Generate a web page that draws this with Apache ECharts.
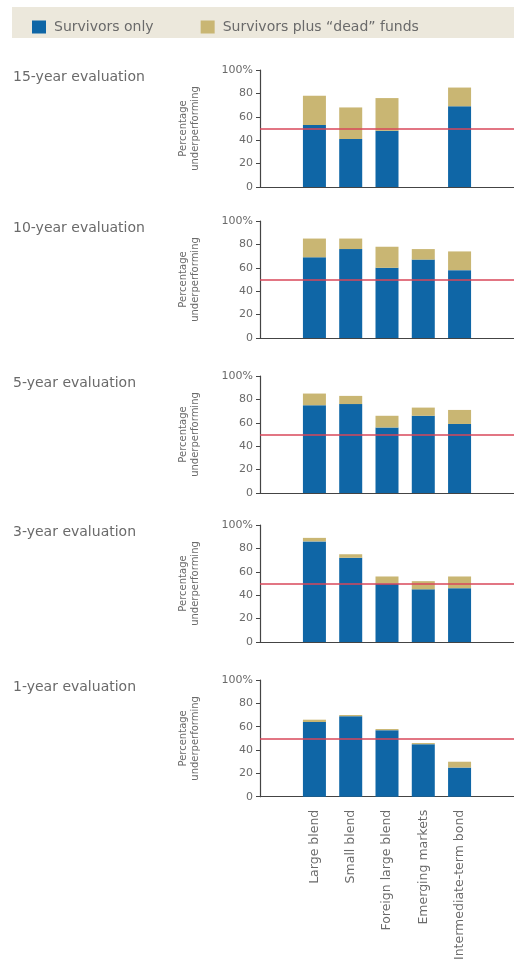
<!DOCTYPE html>
<html><head><meta charset="utf-8">
<script src="https://cdn.jsdelivr.net/npm/echarts@6/dist/echarts.min.js"></script>
<style>html,body{margin:0;padding:0;background:#fff}#c{width:514px;height:963px}</style>
</head><body><div id="c"></div>
<script>
var categories = ['Large blend','Small blend','Foreign large blend','Emerging markets','Intermediate-term bond'];
var panelTitles = ['15-year evaluation','10-year evaluation','5-year evaluation','3-year evaluation','1-year evaluation'];
var survivors15 = [53, 41, 48, null, 69];
var total15     = [78, 68, 76, null, 85];
var survivors10 = [69, 76, 60, 67, 58];
var total10     = [85, 85, 78, 76, 74];
var survivors5  = [75, 76, 56, 66, 59];
var total5      = [85, 83, 66, 73, 71];
var survivors3  = [86, 72, 50, 45, 46];
var total3      = [89, 75, 56, 52, 56];
var survivors1  = [64, 69, 57, 45, 25];
var total1      = [66, 70, 58, 46, 30];
var yTicks = [0, 20, 40, 60, 80, 100];
var benchmark = 50;

var survivorsAll = [survivors15, survivors10, survivors5, survivors3, survivors1];
var totalsAll = [total15, total10, total5, total3, total1];

var BLUE = '#0f66a6', BEIGE = '#c9b673', RED = '#d9475a', AX = '#444', TXT = '#6a6a6a';
var FONT = 'DejaVu Sans';
var tops = [70, 221, 376, 525, 680];
var H = 117;

var cats = [''].concat(categories).concat(['']);
function pad(a){ return [null].concat(a).concat([null]); }

var grids = [], xAxes = [], yAxes = [], series = [], graphics = [];
graphics.push({type:'rect', shape:{x:12, y:7, width:502, height:31}, style:{fill:'#ece8dc'}, silent:true, z:-1});
for (var i = 0; i < 5; i++) {
  grids.push({left:260, right:0, top:tops[i], height:H, containLabel:false});
  var last = (i === 4);
  xAxes.push({type:'category', gridIndex:i, data:cats, boundaryGap:true,
    axisLine:{show:true, lineStyle:{color:AX, width:1.2}}, axisTick:{show:false},
    axisLabel:{show:last, rotate:90, margin:13, color:TXT, fontSize:12.5, fontFamily:FONT, interval:0}});
  yAxes.push({type:'value', gridIndex:i, min:yTicks[0], max:yTicks[yTicks.length-1], interval:yTicks[1]-yTicks[0],
    axisLine:{show:true, lineStyle:{color:AX, width:1.2}},
    axisTick:{show:true, length:4, lineStyle:{color:AX}},
    splitLine:{show:false},
    axisLabel:{color:TXT, fontSize:11, fontFamily:FONT, margin:7, formatter:function(v){return v===100?'100%':String(v);}},
    name:'Percentage\nunderperforming', nameLocation:'middle', nameRotate:90, nameGap:59,
    nameTextStyle:{color:TXT, fontSize:10, fontFamily:FONT, lineHeight:12}});
  var s = survivorsAll[i], t = totalsAll[i];
  var dead = t.map(function(v, k){ return (v == null || s[k] == null) ? null : v - s[k]; });
  series.push({name:'Survivors only', type:'bar', xAxisIndex:i, yAxisIndex:i, stack:'s'+i,
    barWidth:23, data:pad(s), itemStyle:{color:BLUE},
    markLine:{silent:true, symbol:['none','none'], label:{show:false},
      lineStyle:{color:RED, width:1.5, type:'solid'}, data:[{yAxis:benchmark}]}});
  series.push({name:'Survivors plus \u201cdead\u201d funds', type:'bar', xAxisIndex:i, yAxisIndex:i, stack:'s'+i,
    barWidth:23, data:pad(dead), itemStyle:{color:BEIGE}});
  graphics.push({type:'text', left:13, top:tops[i], style:{text:panelTitles[i], fill:TXT, font:'14px "'+FONT+'"'}});
}

var chart = echarts.init(document.getElementById('c'), null, {renderer:'canvas'});
chart.setOption({
  animation:false,
  backgroundColor:'#fff',
  legend:{left:27, top:15, itemWidth:14, itemHeight:13, itemGap:47,
    icon:'rect', textStyle:{color:TXT, fontSize:14, fontFamily:FONT, padding:[0,0,0,3]},
    data:['Survivors only','Survivors plus \u201cdead\u201d funds']},
  grid:grids, xAxis:xAxes, yAxis:yAxes, series:series, graphic:graphics
});
</script></body></html>
